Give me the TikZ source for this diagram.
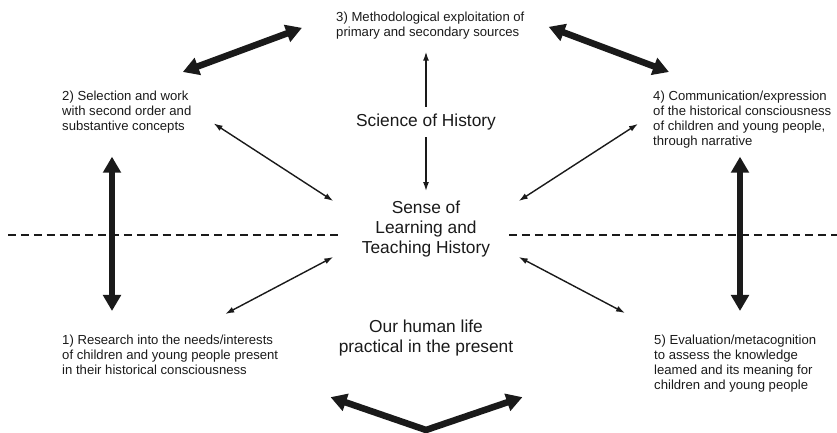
\documentclass[tikz,border=0pt]{standalone}
\usepackage{fontspec}
\setmainfont{Liberation Sans}
\usepackage{tikz}
\usetikzlibrary{arrows.meta,calc}
\definecolor{InkBlack}{RGB}{26,26,26}
\newcommand{\stagefont}{\fontsize{11.2}{12.8}\selectfont}
\newcommand{\fieldfont}{\fontsize{14.8}{16.8}\selectfont}

\begin{document}
\begin{tikzpicture}[
 x=0.03cm, y=-0.03cm,
 stage/.style={anchor=north west, align=left, inner sep=0pt, font=\stagefont, text=InkBlack},
 field/.style={align=center, inner sep=0pt, font=\fieldfont, text=InkBlack},
 thinarr/.style={{Latex[length=0.27cm,width=0.18cm]}-{Latex[length=0.27cm,width=0.18cm]}, line width=1.2pt, draw=InkBlack},
 onearr/.style={-{Latex[length=0.27cm,width=0.18cm]}, line width=1.2pt, draw=InkBlack},
 thickarr/.style={{Triangle[length=0.48cm,width=0.52cm]}-{Triangle[length=0.48cm,width=0.52cm]}, line width=5.6pt, draw=InkBlack},
 split/.style={dashed, dash pattern=on 6.8pt off 4.2pt, line width=0.9pt, draw=InkBlack}
]
\useasboundingbox (0,0) rectangle (837,433);
\node[stage] (research) at (62,335) {1) Research into the needs/interests\\of children and young people present\\in their historical consciousness};
\node[stage] (concepts) at (62,91) {2) Selection and work\\with second order and\\substantive concepts};
\node[stage] (sources) at (336,12) {3) Methodological exploitation of\\primary and secondary sources};
\node[stage] (narrative) at (653,91) {4) Communication/expression\\of the historical consciousness\\of children and young people,\\through narrative};
\node[stage] (evaluation) at (654,335) {5) Evaluation/metacognition\\to assess the knowledge\\leamed and its meaning for\\children and young people};
\node[field, minimum height=0.9cm] (science) at (426,122) {Science of History};
\node[field, minimum width=5.55cm, minimum height=1.56cm] (sense) at (426,229) {Sense of\\Learning and\\Teaching History};
\node[field] (life) at (426,338) {Our human life\\practical in the present};
\coordinate (vbase) at (426,430);

\draw[split] (8,235) -- (343,235);
\draw[split] (509,235) -- (837,235);

\draw[thickarr] ($(concepts.north)+(56,-19)$) -- ($(sources.west)+(-34,2)$);
\draw[thickarr] ($(sources.east)+(24,1)$) -- ($(narrative.north west)+(16,-19)$);
\draw[thickarr] ($(concepts.south west)+(50,23)$) -- ($(research.north west)+(50,-24)$);
\draw[thickarr] ($(narrative.south west)+(87,8)$) -- ($(evaluation.north west)+(86,-24)$);
\draw[thickarr, line join=miter] ($(life.south west)+(-8,41)$) -- (vbase) -- ($(life.south east)+(9,41)$);

\draw[onearr, shorten >=0.36cm] (science.north) -- (science.north |- sources.south);
\draw[onearr, shorten >=0.3cm] (science) -- (sense);
\draw[thinarr] ($(concepts.east)+(22,11)$) -- (sense.north west);
\draw[thinarr] ($(narrative.west)+(-15,4)$) -- (sense.north east);
\draw[thinarr] ($(research.north)+(55,-21)$) -- (sense.south west);
\draw[thinarr] ($(evaluation.north west)+(-29,-22)$) -- (sense.south east);
\end{tikzpicture}
\end{document}
